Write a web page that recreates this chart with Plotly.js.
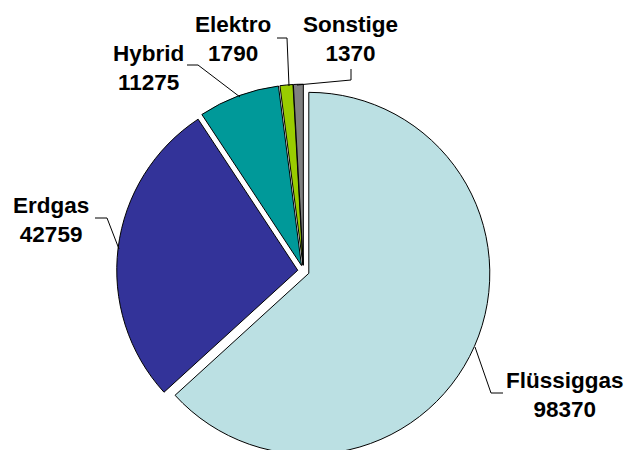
<!DOCTYPE html>
<html>
<head>
<meta charset="utf-8">
<script src="https://cdn.plot.ly/plotly-3.0.1.min.js"></script>
<style>
html, body { margin: 0; padding: 0; width: 627px; height: 450px; overflow: hidden; background: #fff; }
#chart { width: 627px; height: 480px; }
</style>
</head>
<body>
<div id="chart"></div>
<script>
// ---- data ----
var categories = ["Flüssiggas", "Erdgas", "Hybrid", "Elektro", "Sonstige"];
var values = [98370, 42759, 11275, 1790, 1370];
var colors = ["#BBE0E3", "#333399", "#009999", "#99CC00", "#808080"];

// ---- layout helpers (pixel -> paper) ----
var W = 627, H = 480;
function px(x) { return x / W; }
function py(y) { return 1 - y / H; }

// label centers in pixels (layout only)
var labelPos = [[565, 395], [51, 220], [148.5, 68], [233, 39], [350, 39]];
// leader line points in pixels (layout only)
var leaders = [
  [[503, 393], [491, 393], [475, 347]],
  [[95, 218], [107, 218], [119, 249]],
  [[187, 65], [198, 65], [240, 97]],
  [[277, 38], [287, 38], [289, 86]],
  [[351, 69], [351, 80], [297, 85]]
];

var cx = 303.5, cyPix = 271, r = 181, pull = 0.032;
var box = r * (1 + pull);

var trace = {
  type: "pie",
  labels: categories,
  values: values,
  sort: false,
  direction: "clockwise",
  rotation: 0,
  pull: values.map(function () { return pull; }),
  marker: { colors: colors, line: { color: "#000000", width: 1 } },
  textinfo: "none",
  hoverinfo: "skip",
  showlegend: false,
  domain: {
    x: [px(cx - box), px(cx + box)],
    y: [py(cyPix + box), py(cyPix - box)]
  }
};

var annotations = categories.map(function (c, i) {
  return {
    xref: "paper", yref: "paper",
    x: px(labelPos[i][0]), y: py(labelPos[i][1]),
    xanchor: "center", yanchor: "middle",
    text: "<b>" + c + "</b><br><b>" + values[i] + "</b>",
    align: "center",
    showarrow: false,
    font: { family: "Liberation Sans, Arial, sans-serif", size: 22.5, color: "#000" }
  };
});

var shapes = leaders.map(function (pts) {
  var d = pts.map(function (p, j) { return (j ? "L" : "M") + px(p[0]) + "," + py(p[1]); }).join(" ");
  return { type: "path", xref: "paper", yref: "paper", path: d, line: { color: "#000", width: 1 } };
});

var layout = {
  width: W, height: H,
  margin: { l: 0, r: 0, t: 0, b: 0 },
  paper_bgcolor: "#ffffff",
  plot_bgcolor: "#ffffff",
  annotations: annotations,
  shapes: shapes
};

Plotly.newPlot("chart", [trace], layout, { staticPlot: true, displayModeBar: false });
</script>
</body>
</html>
